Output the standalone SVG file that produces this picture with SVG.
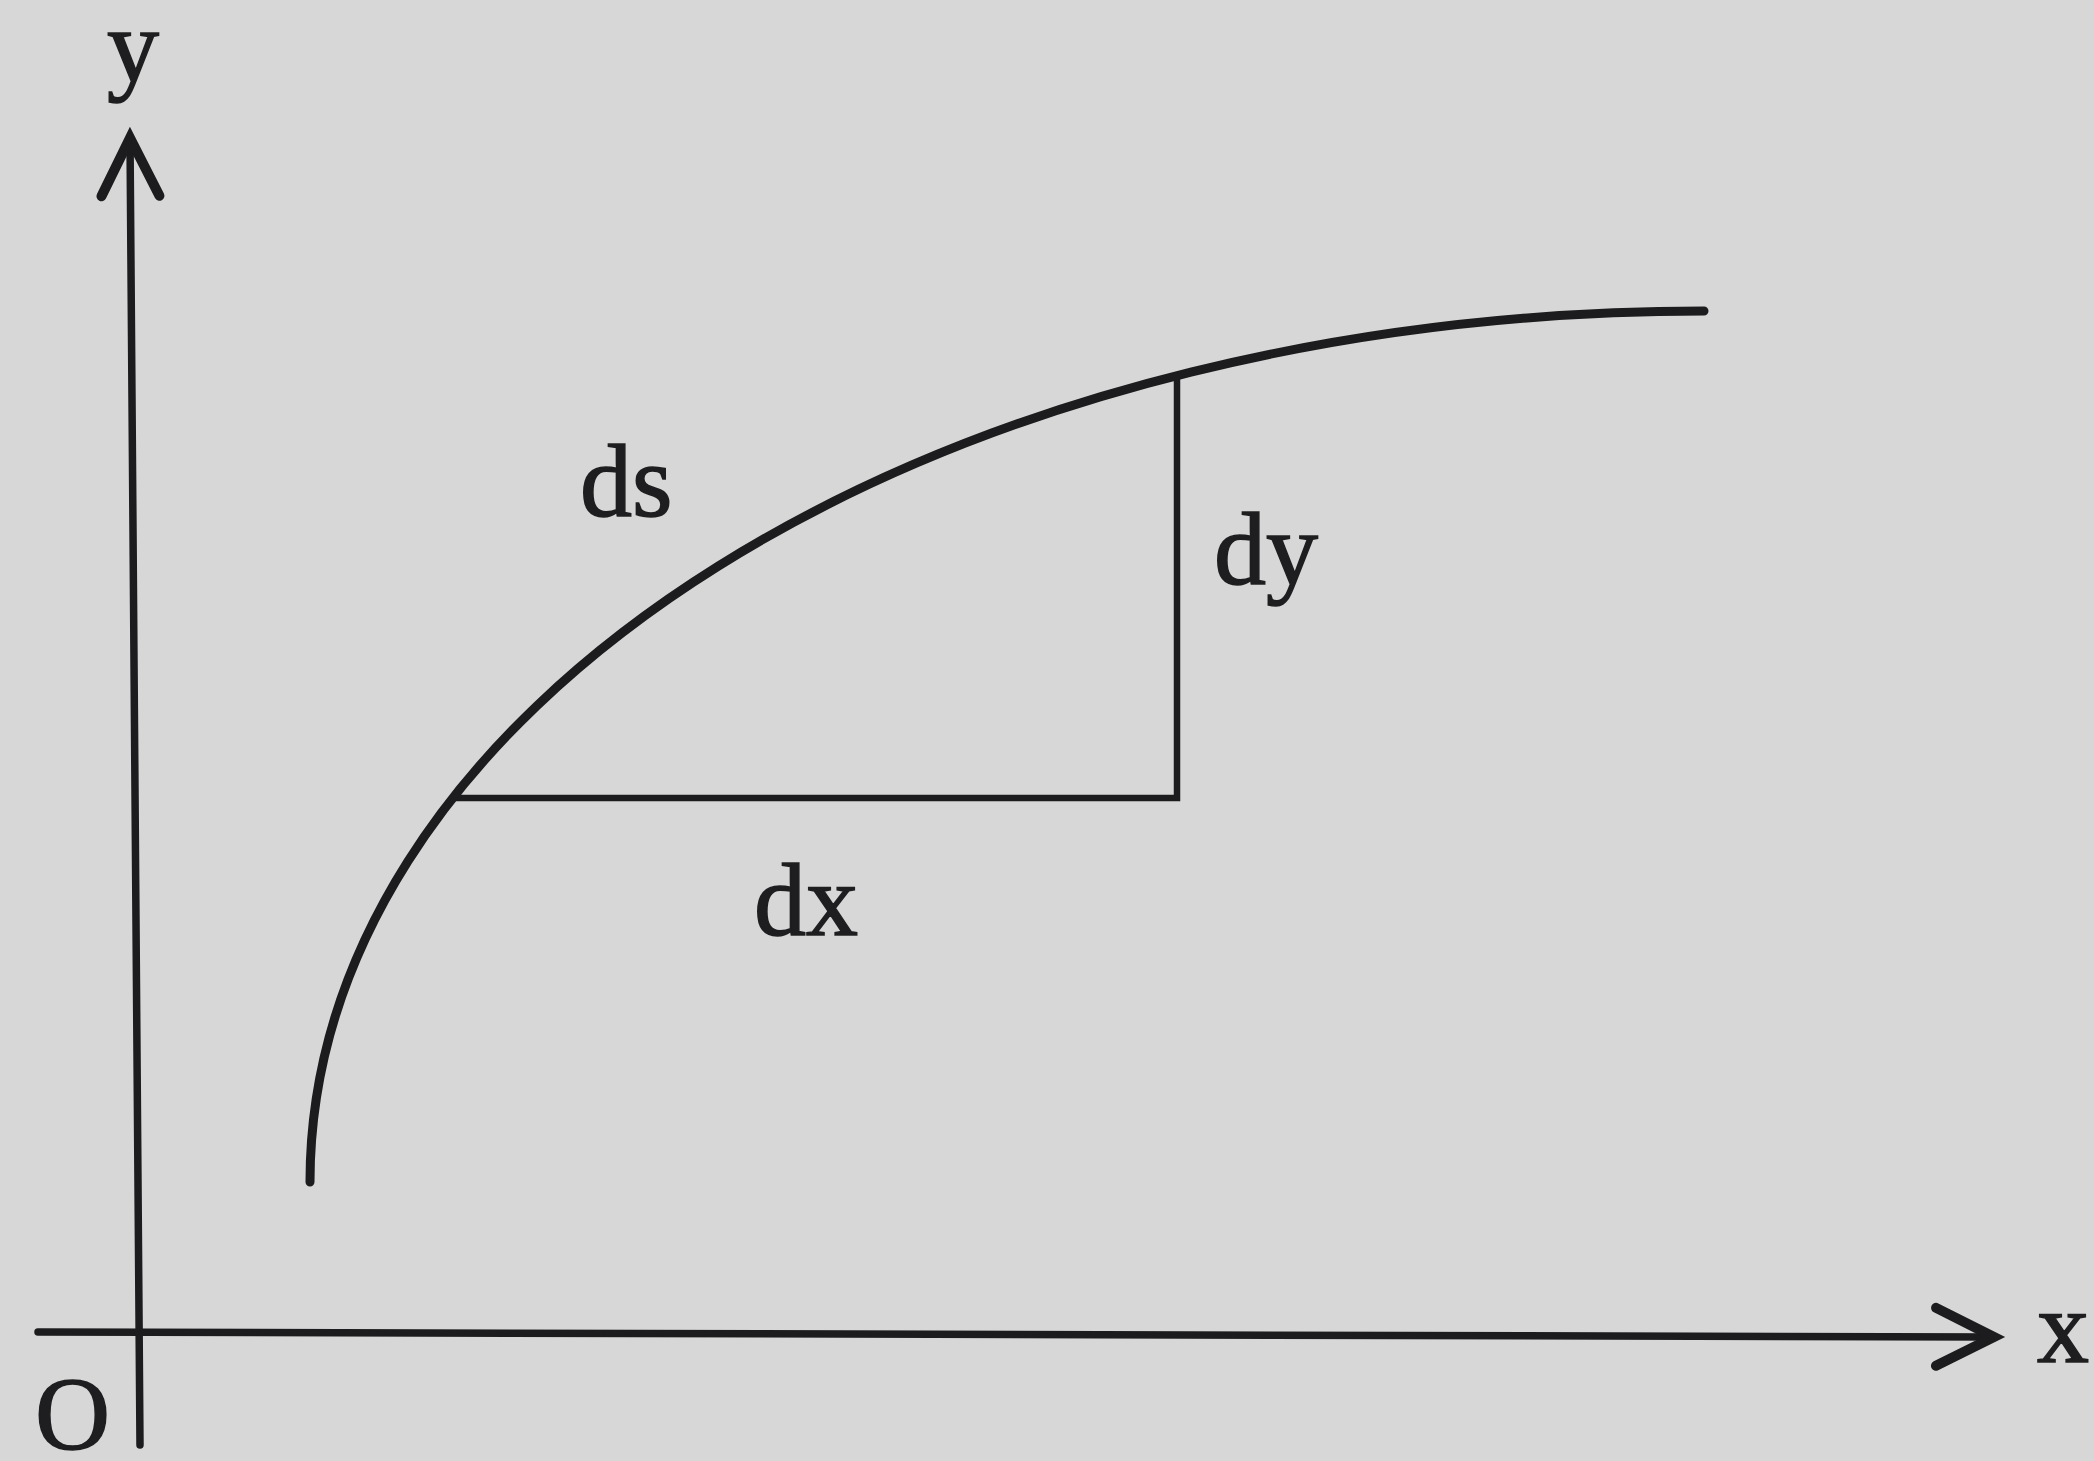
<svg xmlns="http://www.w3.org/2000/svg" width="2094" height="1461" viewBox="0 0 2094 1461">
<style>
.ax{fill:none;stroke:#1c1c1e;stroke-width:7.5;stroke-linecap:round}
.ln{fill:none;stroke:#1c1c1e;stroke-width:6.5;stroke-linejoin:miter}
.cv{fill:none;stroke:#1c1c1e;stroke-width:9;stroke-linecap:round}
.lb{font-family:"Liberation Serif","Times New Roman",serif;font-size:104px;fill:#1e1e20;stroke:#1e1e20;stroke-width:1.5}
</style>
<defs>
<marker id="arr" markerUnits="userSpaceOnUse" markerWidth="90" markerHeight="90" viewBox="-75 -45 90 90" refX="0" refY="0" orient="auto">
<path d="M-58,-29 L0,0 L-58,29" fill="none" stroke="#1c1c1e" stroke-width="10" stroke-linecap="round" stroke-linejoin="miter"/>
</marker>
</defs>
<rect width="2094" height="1461" fill="#d7d7d7"/>
<g id="connectors">
<path id="y-axis" class="ax" d="M140,1445 L130,138" marker-end="url(#arr)"/>
<path id="x-axis" class="ax" d="M38,1332 L1994,1337" marker-end="url(#arr)"/>
<path id="curve" class="cv" d="M310,1182 A1394,871 0 0 1 1704,311"/>
<path id="triangle" class="ln" d="M453,798 L1177,798 L1177,376"/>
</g>
<g id="label-y"><text class="lb" x="107" y="81">y</text></g>
<g id="label-x"><text class="lb" x="2037" y="1362">x</text></g>
<g id="label-O"><text class="lb" x="35" y="1449">O</text></g>
<g id="label-ds"><text class="lb" x="580" y="516">ds</text></g>
<g id="label-dy"><text class="lb" x="1214" y="584">dy</text></g>
<g id="label-dx"><text class="lb" x="754" y="935">dx</text></g>
</svg>
